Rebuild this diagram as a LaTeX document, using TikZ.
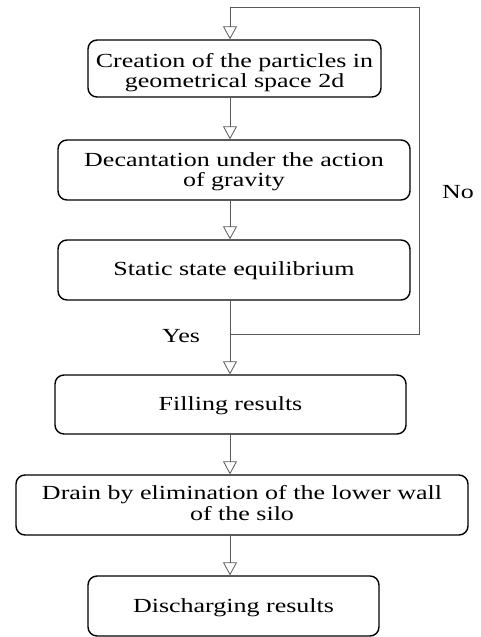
\documentclass[tikz,border=0pt]{standalone}
\usepackage{fontspec}
\setmainfont[FakeStretch=1.3]{Liberation Serif}
\usetikzlibrary{arrows.meta,calc}
\newcommand{\lowertext}[2]{\raisebox{-#1}[\height][\depth]{\begin{tabular}{@{}c@{}}#2\end{tabular}}}
\begin{document}
\begin{tikzpicture}[x=1pt,y=-1pt,
  box/.style={draw=black, line width=1.4pt, rounded corners=9pt, align=center,
    font=\fontsize{20}{20.5}\selectfont, inner sep=0pt},
  conn/.style={draw=black!65, line width=0.9pt,
    -{Triangle[open, length=13pt, width=14pt, line width=0.8pt]}},
  loopline/.style={draw=black!65, line width=0.9pt},
  lbl/.style={font=\fontsize{20}{21}\selectfont, inner sep=0pt}]
\useasboundingbox (0,0) rectangle (481,637);
\coordinate (ax) at (230,0);
\node[box, minimum width=293pt, minimum height=57pt] (b1) at (234.5,68.5) {\lowertext{5pt}{Creation of the particles in\\geometrical space 2d}};
\node[box, minimum width=352pt, minimum height=60pt] (b2) at (234,170) {\lowertext{2.5pt}{Decantation under the action\\of gravity}};
\node[box, minimum width=352pt, minimum height=60pt] (b3) at (234,270) {\lowertext{1.5pt}{Static state equilibrium}};
\node[box, minimum width=351pt, minimum height=59pt] (b4) at (230.5,404.5) {\lowertext{1.5pt}{Filling results}};
\node[box, minimum width=452pt, minimum height=60pt] (b5) at (242,505) {\lowertext{1pt}{Drain by elimination of the lower wall\\of the silo}};
\node[box, minimum width=291pt, minimum height=60pt] (b6) at (233.5,606) {\lowertext{2pt}{Discharging results}};
\coordinate (j) at (230,334);
\coordinate (r1) at (419,334);
\coordinate (r2) at (419,7);
\coordinate (t) at (230,7);
\node[lbl] (yes) at (181,336) {Yes};
\node[lbl] (no) at (458,192) {No};
\draw[conn] (b1.south -| ax) -- (b2.north -| ax);
\draw[conn] (b2.south -| ax) -- (b3.north -| ax);
\draw[conn] (b3.south -| ax) -- (b4.north -| ax);
\draw[conn] (b4.south -| ax) -- (b5.north -| ax);
\draw[conn] (b5.south -| ax) -- (b6.north -| ax);
\draw[loopline] (j) -- (r1) -- (r2) -- (t);
\draw[conn] (t) -- (b1.north -| ax);
\end{tikzpicture}
\end{document}
